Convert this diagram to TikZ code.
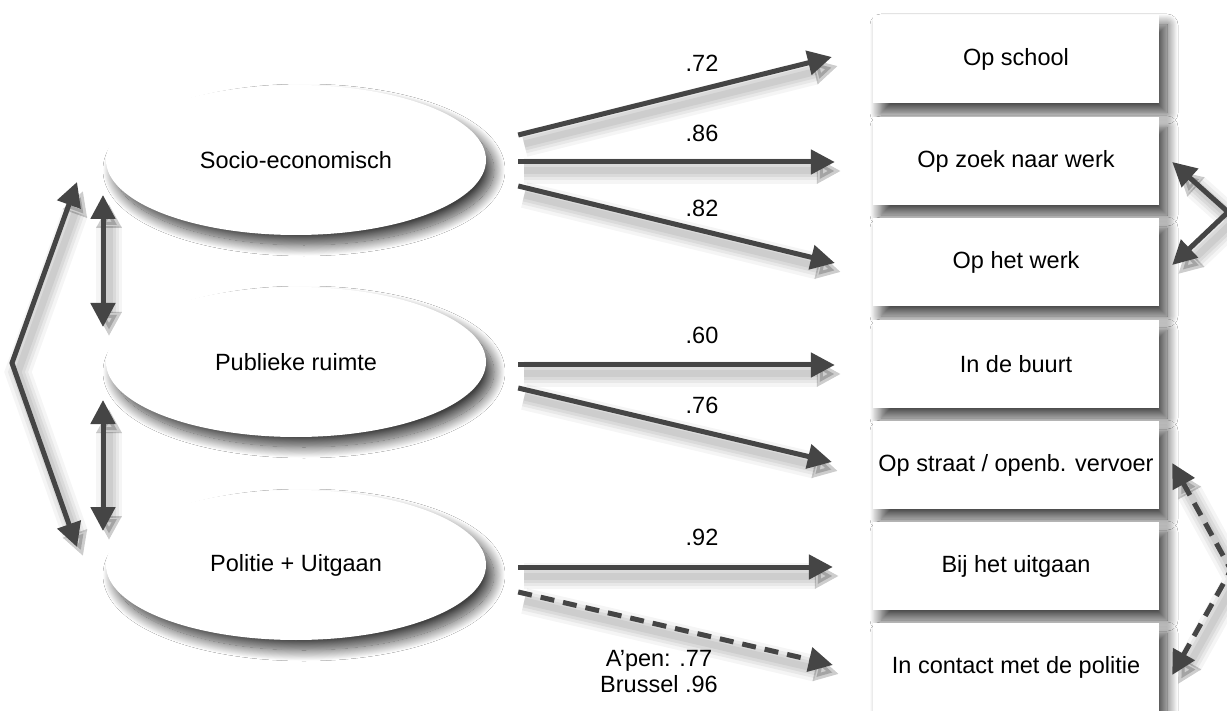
\documentclass[tikz,border=0pt]{standalone}
\usepackage{fontspec}
\setmainfont{Liberation Sans}
\usetikzlibrary{shadows.blur,arrows.meta,calc,shapes.geometric}
\definecolor{arrgray}{HTML}{454545}
\begin{document}
\begin{tikzpicture}[x=1pt,y=-1pt,
  font=\fontsize{23.5}{28}\selectfont,
  shad/.style={blur shadow={shadow xshift=8pt,shadow yshift=-10pt,shadow blur radius=11pt,shadow blur steps=24,shadow opacity=75}},
  factor/.style={ellipse, fill=white, minimum width=380pt, minimum height=150pt, inner sep=0pt, shad},
  item/.style={rectangle, fill=white, minimum width=286pt, minimum height=88pt, inner sep=0pt, shad},
  ashad/.style={preaction={draw=black,opacity=0.04,line width=26pt,transform canvas={shift={(6pt,-9pt)}}},
                preaction={draw=black,opacity=0.05,line width=19pt,transform canvas={shift={(6pt,-9pt)}}},
                preaction={draw=black,opacity=0.06,line width=13pt,transform canvas={shift={(6pt,-9pt)}}},
                preaction={draw=black,opacity=0.06,line width=7pt,transform canvas={shift={(6pt,-9pt)}}}},
  arr/.style={ashad, draw=arrgray, line width=5pt, -{Triangle[length=24pt,width=24pt]}},
  darr/.style={ashad, draw=arrgray, line width=5pt, {Triangle[length=24pt,width=24pt]}-{Triangle[length=24pt,width=24pt]}},
  dashline/.style={dash pattern=on 14pt off 9pt},
  lbl/.style={inner sep=0pt}
]
\path[use as bounding box, clip] (0,0) rectangle (1227,711);
\fill[white] (0,0) rectangle (1227,711);

% factors
\node[factor] (e1) at (296,160) {Socio-economisch};
\node[factor] (e2) at (296,362) {Publieke ruimte};
\node[factor] (e3) at (296,565) {Politie + Uitgaan};

% items
\node[item] (b1) at (1016,59)  {Op school};
\node[item] (b2) at (1016,161) {Op zoek naar werk};
\node[item] (b3) at (1016,262) {Op het werk};
\node[item] (b4) at (1016,364) {In de buurt};
\node[item] (b5) at (1016,465) {Op straat / openb. vervoer};
\node[item] (b6) at (1016,566) {Bij het uitgaan};
\node[item] (b7) at (1016,667) {In contact met de politie};

% loadings
\draw[arr] ($(e1.east)+(32,-25)$) -- ($(b1.west)+(-41,-2)$);
\draw[arr] ($(e1.east)+(32,2)$)   -- ($(b2.west)+(-38,1)$);
\draw[arr] ($(e1.east)+(32,26)$)  -- ($(b3.west)+(-38,1)$);
\draw[arr] ($(e2.east)+(32,3)$)   -- ($(b4.west)+(-38,1)$);
\draw[arr] ($(e2.east)+(32,26)$)  -- ($(b5.west)+(-41,-3)$);
\draw[arr] ($(e3.east)+(32,2)$)   -- ($(b6.west)+(-40,1)$);
\draw[arr,dashline] ($(e3.east)+(32,27)$) -- ($(b7.west)+(-40,-2)$);

% loading labels
\node[lbl] (l1) at (702,63)  {.72};
\node[lbl] (l2) at (702,133) {.86};
\node[lbl] (l3) at (702,208) {.82};
\node[lbl] (l4) at (702,335) {.60};
\node[lbl] (l5) at (702,405) {.76};
\node[lbl] (l6) at (702,537) {.92};
\node[lbl, align=center, font=\fontsize{23.5}{26}\selectfont] (l7) at (659,672) {A’pen: .77\\Brussel .96};

% correlations between factors
\coordinate (c1) at (77,182);
\coordinate (c0) at (12,363);
\coordinate (c3) at (77,547);
\draw[darr] (c1) -- (c0) -- (c3);
\coordinate (v1a) at (103,195);
\coordinate (v1b) at (103,327);
\coordinate (v2a) at (103,400);
\coordinate (v2b) at (103,531);
\draw[darr] (v1a) -- (v1b);
\draw[darr] (v2a) -- (v2b);

% correlated residuals
\coordinate (r1) at ($(b2.east)+(13,1)$);
\coordinate (r0) at (1228,212);
\coordinate (r2) at ($(b3.east)+(13,3)$);
\draw[darr] (r1) -- (r0) -- (r2);
\coordinate (s1) at ($(b5.east)+(13,-2)$);
\coordinate (s0) at (1231,570);
\coordinate (s2) at ($(b7.east)+(13,8)$);
\draw[darr,dashline] (s1) -- (s0) -- (s2);
\end{tikzpicture}
\end{document}
